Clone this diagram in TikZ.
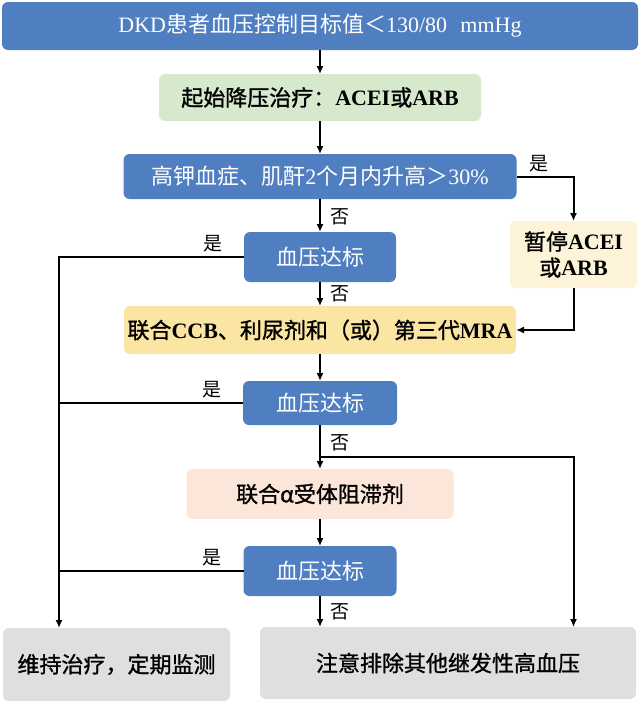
\documentclass[tikz,border=0pt]{standalone}
\usepackage{fontspec}
\setmainfont{Liberation Serif}
\newfontfamily\cjk[BoldFont=Noto Sans CJK SC,BoldFeatures={FakeBold=1.2}]{Noto Sans CJK SC}
\usetikzlibrary{positioning,arrows.meta}
\definecolor{stepblue}{HTML}{4F7FC0}
\definecolor{stepgreen}{HTML}{D6E9CD}
\definecolor{stepgold}{HTML}{FBE5A3}
\definecolor{steppale}{HTML}{FCF3D8}
\definecolor{steppeach}{HTML}{FCE6D9}
\definecolor{stepgray}{HTML}{DFDFDF}
\newcommand{\zhtxt}[1]{{\cjk #1}}

\begin{document}
\begin{tikzpicture}[x=1pt,y=-1pt,line width=2pt,
    every node/.style={inner sep=0pt,outer sep=0pt},
    box/.style={rounded corners=6pt,align=center,font=\fontsize{22}{26}\selectfont},
    testbox/.style={box,fill=stepblue,text=white},
    actbox/.style={box,text=black,font=\fontsize{22}{26}\selectfont\bfseries},
    endbox/.style={actbox,fill=stepgray},
    arr/.style={-{Latex[length=8pt,width=7pt]}},
    lbl/.style={font=\cjk\fontsize{19}{22}\selectfont}]
    \useasboundingbox (0,0) rectangle (640,704);
    % boxes
    \node[testbox,minimum width=636pt,minimum height=48pt] (goal) at (320,26) {DKD\zhtxt{患者血压控制目标值＜}130/80\hspace{0.6em}mmHg};
    \node[actbox,fill=stepgreen,minimum width=322pt,minimum height=47pt,below=24pt of goal] (start) {\zhtxt{起始降压治疗：}ACEI\zhtxt{或}ARB};
    \node[testbox,minimum width=393pt,minimum height=45pt,below=33pt of start] (check) {\zhtxt{高钾血症、肌酐}2\zhtxt{个月内升高＞}30\%};
    \node[testbox,minimum width=152pt,minimum height=50pt,below=33pt of check] (bp1) {\zhtxt{血压达标}};
    \node[actbox,fill=steppale,minimum width=127pt,minimum height=67pt,right=114pt of bp1,yshift=2.5pt] (pause) {\zhtxt{暂停}ACEI\\\zhtxt{或}ARB};
    \node[actbox,fill=stepgold,minimum width=392pt,minimum height=48pt,below=24pt of bp1] (combo) {\zhtxt{联合}CCB\zhtxt{、利尿剂和（或）第三代}MRA};
    \node[testbox,minimum width=154pt,minimum height=44pt,below=27pt of combo] (bp2) {\zhtxt{血压达标}};
    \node[actbox,fill=steppeach,minimum width=267pt,minimum height=50pt,below=44pt of bp2] (alpha) {\zhtxt{联合α受体阻滞剂}};
    \node[testbox,minimum width=153pt,minimum height=50pt,below=27pt of alpha] (bp3) {\zhtxt{血压达标}};
    \node[endbox,minimum width=227pt,minimum height=73pt] (keep) at (116.5,664.5) {\zhtxt{维持治疗，定期监测}};
    \node[endbox,minimum width=376pt,minimum height=72pt] (other) at (448,663) {\zhtxt{注意排除其他继发性高血压}};
    \coordinate (trunk) at (59,0);
    \coordinate (split) at (320,457);
    % main column
    \draw[arr] (goal) -- (start);
    \draw[arr] (start) -- (check);
    \draw[arr] (check) -- node[lbl,right=10pt,pos=0.55] {否} (bp1);
    \draw[arr] (check) -| node[lbl,above=4pt,pos=0.2] {是} (pause);
    \draw[arr] (pause) |- (combo);
    \draw[arr] (bp1) -- node[lbl,right=10pt,pos=0.5] {否} (combo);
    \draw[arr] (combo) -- (bp2);
    \draw[arr] (bp2) -- node[lbl,right=10pt,pos=0.4] {否} (alpha);
    \draw[arr] (split) -| (pause.south |- other.north);
    \draw[arr] (alpha) -- (bp3);
    \draw[arr] (bp3) -- node[lbl,right=10pt,pos=0.5] {否} (bp3 |- other.north);
    % left side
    \draw[arr] (bp1) -- node[lbl,above=5pt,pos=0.17] {是} (bp1 -| trunk) -- (keep.north -| trunk);
    \draw (bp2) -- node[lbl,above=5pt,pos=0.17] {是} (bp2 -| trunk);
    \draw (bp3) -- node[lbl,above=5pt,pos=0.17] {是} (bp3 -| trunk);
\end{tikzpicture}
\end{document}
